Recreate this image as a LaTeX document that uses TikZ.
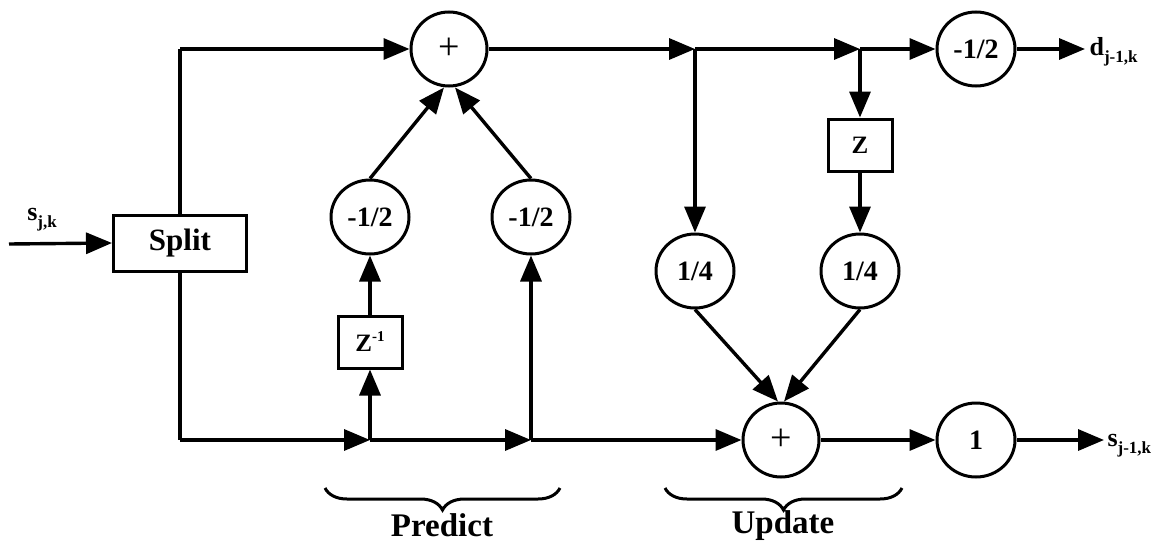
\documentclass[tikz,border=0pt]{standalone}
\usepackage{fontspec}
\setmainfont{Liberation Serif}
\usetikzlibrary{arrows.meta,decorations.pathreplacing,shapes.geometric}

\newcommand{\sig}[2]{{\fontsize{26}{26}\selectfont\bfseries #1}\raisebox{-7pt}{\fontsize{17}{17}\selectfont\bfseries #2}}

\begin{document}
\begin{tikzpicture}[x=1pt,y=-1pt,
  wire/.style={line width=3.4pt,-{Triangle[length=26pt,width=21pt]}},
  line/.style={line width=3.4pt},
  gain/.style={ellipse,draw,line width=3pt,minimum width=78pt,minimum height=74pt,
    inner sep=0pt,font=\bfseries\fontsize{28}{28}\selectfont},
  sumnode/.style={ellipse,draw,line width=3pt,minimum width=76pt,minimum height=74pt,
    inner sep=0pt,font=\fontsize{38}{38}\selectfont},
  delay/.style={rectangle,draw,line width=3pt,minimum width=64pt,minimum height=52pt,
    inner sep=0pt,font=\bfseries\fontsize{25}{25}\selectfont},
  splitbox/.style={rectangle,draw,line width=3pt,minimum width=133pt,minimum height=56pt,
    inner sep=0pt,font=\bfseries\fontsize{31}{31}\selectfont},
  stage/.style={font=\bfseries\fontsize{33}{33}\selectfont},
  bracket/.style={line width=3pt,decorate,decoration={brace,amplitude=22pt}}
]
\useasboundingbox (0,0) rectangle (1173,546);

% blocks
\node[splitbox] (split) at (180,243) {Split};
\node[sumnode] (addp) at (449,49) {+};
\node[gain] (m1) at (370,217) {-1/2};
\node[gain] (m2) at (531,217) {-1/2};
\node[delay] (zi) at (370,342) {Z\raisebox{10pt}{\fontsize{15}{15}\selectfont\bfseries -1}};
\node[delay] (z) at (860,145) {Z};
\node[gain] (q1) at (695,271) {1/4};
\node[gain] (q2) at (860,271) {1/4};
\node[sumnode] (addu) at (781,440) {+};
\node[gain] (dg) at (976,49) {-1/2};
\node[gain] (one) at (976,440) {1};

% branch points and free ends
\coordinate (in) at (9,244);
\coordinate (tl) at (180,49);
\coordinate (bl) at (180,440);
\coordinate (j1) at (695,49);
\coordinate (j2) at (860,49);
\coordinate (b1) at (370,440);
\coordinate (b2) at (531,440);
\coordinate (dout) at (1085,49);
\coordinate (sout) at (1104,440);

% signal labels
\node (sin) at (42,220) {\sig{s}{j,k}};
\node[anchor=west] (dlab) at (1086,52) {\sig{d}{j-1,k}};
\node[anchor=west] (slab) at (1104,446) {\sig{s}{j-1,k}};

% input and split
\draw[wire] (in) -- (split.west);
\draw[line] (split.north) -- (tl);
\draw[wire] (tl) -- (addp.west);
\draw[line] (split.south) -- (bl);
\draw[wire] (bl) -- (b1);

% predict stage
\draw[wire] (b1) -- (b2);
\draw[wire] (b1) -- (zi.south);
\draw[wire] (zi.north) -- (m1.south);
\draw[wire] (b2) -- (m2.south);
\draw[wire] (m1.north) -- ([xshift=-5pt]addp.south);
\draw[wire] (m2.north) -- ([xshift=6pt]addp.south);

% detail path
\draw[wire] (addp.east) -- (j1);
\draw[wire] (j1) -- (j2);
\draw[wire] (j2) -- (dg.west);
\draw[wire] (dg.east) -- (dout);

% update stage
\draw[wire] (j1) -- (q1.north);
\draw[wire] (j2) -- (z.north);
\draw[wire] (z.south) -- (q2.north);
\draw[wire] (q1.south) -- ([xshift=-3pt]addu.north);
\draw[wire] (q2.south) -- ([xshift=3pt]addu.north);
\draw[wire] (b2) -- (addu.west);
\draw[wire] (addu.east) -- (one.west);
\draw[wire] (one.east) -- (sout);

% stage braces
\draw[bracket] (560,488) -- (325,488);
\draw[bracket] (902,488) -- (665,488);
\node[stage] (plab) at (442,525) {Predict};
\node[stage] (ulab) at (783,526) {Update};
\end{tikzpicture}
\end{document}
